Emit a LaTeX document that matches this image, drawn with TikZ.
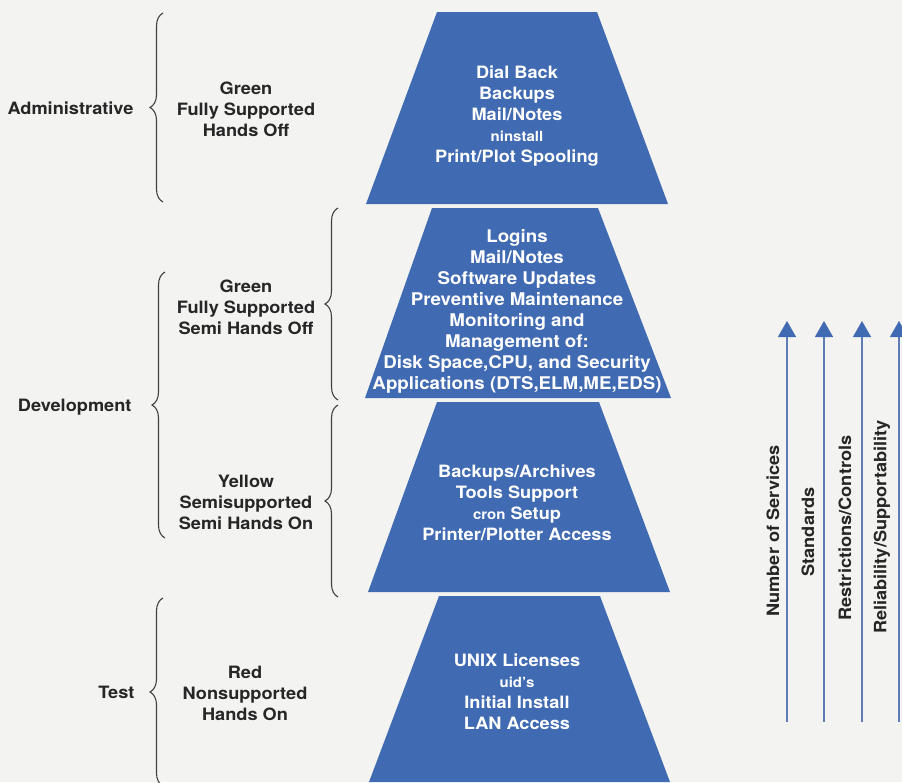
\documentclass[tikz,border=0pt]{standalone}
\usepackage{fontspec}
\setmainfont[FakeStretch=1.07]{TeX Gyre Heros}
\usetikzlibrary{arrows.meta,decorations.pathreplacing}

\definecolor{tierblue}{RGB}{64,106,178}
\definecolor{paper}{RGB}{243,243,241}
\definecolor{lineblue}{RGB}{96,124,182}

\newcommand{\smtxt}[1]{{\fontsize{14pt}{21pt}\selectfont #1}}

\begin{document}
\begin{tikzpicture}[x=1pt,y=-1pt,
    tier/.style={fill=tierblue},
    tiertext/.style={text=white, align=center, font=\fontsize{17pt}{21pt}\selectfont\bfseries},
    lbl/.style={align=center, text=black!85, font=\fontsize{17pt}{21pt}\selectfont\bfseries},
    curly/.style={decorate, decoration={brace, amplitude=13pt}, line width=1.1pt, black!75},
    upline/.style={lineblue, line width=1.4pt, -{Triangle[width=18pt,length=16pt,color=tierblue]}}]
    \fill[paper] (0,0) rectangle (902,782);
    \useasboundingbox (0,0) rectangle (902,782);

    % the four tiers
    \fill[tier] (437,12) -- (597,12) -- (668,204) -- (366,204) -- cycle;
    \fill[tier] (432,208) -- (598,208) -- (671,398) -- (365,398) -- cycle;
    \fill[tier] (437,402) -- (599,402) -- (670,592) -- (368,592) -- cycle;
    \fill[tier] (439,596) -- (600,596) -- (670,782) -- (369,782) -- cycle;

    \node[tiertext] (tadmin) at (517,116) {Dial Back\\Backups\\Mail/Notes\\\smtxt{ninstall}\\Print/Plot Spooling};
    \node[tiertext, font=\fontsize{17.5pt}{21pt}\selectfont\bfseries] (tgreen) at (517,311) {Logins\\Mail/Notes\\Software Updates\\Preventive Maintenance\\Monitoring and\\Management of:\\Disk Space,CPU, and Security\\Applications (DTS,ELM,ME,EDS)};
    \node[tiertext] (tyellow) at (517,503) {Backups/Archives\\Tools Support\\\smtxt{cron} Setup\\Printer/Plotter Access};
    \node[tiertext] (ttest) at (517,692) {UNIX Licenses\\\smtxt{uid's}\\Initial Install\\LAN Access};

    % labels and braces on the left
    \node[lbl, anchor=east] (admin) at (137,108) {Administrative};
    \node[lbl, anchor=east] (devel) at (135,407) {Development};
    \node[lbl, anchor=east] (test) at (138,692) {Test};
    \node[lbl] (sadmin) at (246,109) {Green\\Fully Supported\\Hands Off};
    \node[lbl] (sgreen) at (246,307) {Green\\Fully Supported\\Semi Hands Off};
    \node[lbl] (syellow) at (246,502) {Yellow\\Semisupported\\Semi Hands On};
    \node[lbl] (stest) at (245,693) {Red\\Nonsupported\\Hands On};

    \coordinate (b1lo) at (163,202); \coordinate (b1hi) at (163,13);
    \coordinate (b2lo) at (165,538); \coordinate (b2hi) at (165,272);
    \coordinate (b3lo) at (163,786); \coordinate (b3hi) at (163,598);
    \coordinate (b4lo) at (338,400); \coordinate (b4hi) at (338,208);
    \coordinate (b5lo) at (338,597); \coordinate (b5hi) at (338,405);
    \draw[curly] (b1lo) -- (b1hi);
    \draw[curly] (b2lo) -- (b2hi);
    \draw[curly] (b3lo) -- (b3hi);
    \draw[curly] (b4lo) -- (b4hi);
    \draw[curly] (b5lo) -- (b5hi);

    % arrows on the right
    \foreach \x/\name in {787/serv, 824/stds, 862/restr, 899/rel}{
        \coordinate (\name-lo) at (\x,722);
        \coordinate (\name-hi) at (\x,321);
        \draw[upline] (\name-lo) -- (\name-hi);
    }
    \node[lbl, rotate=90] (nserv) at (773,531) {Number of Services};
    \node[lbl, rotate=90] (nstds) at (808,532) {Standards};
    \node[lbl, rotate=90] (nrestr) at (845,528) {Restrictions/Controls};
    \node[lbl, rotate=90] (nrel) at (882,527) {Reliability/Supportability};
\end{tikzpicture}
\end{document}
